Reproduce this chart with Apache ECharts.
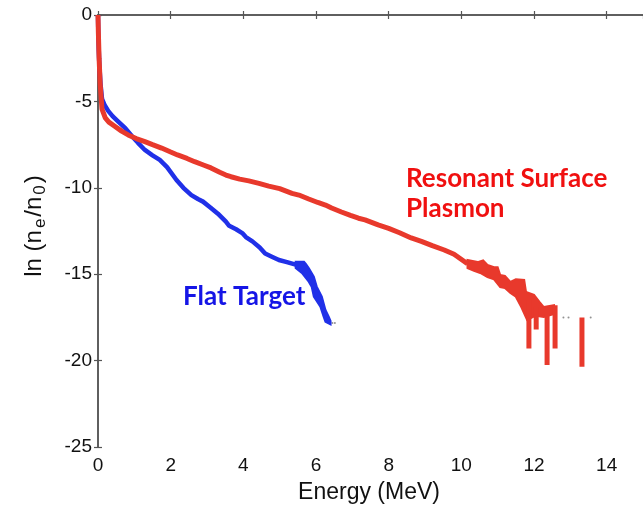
<!DOCTYPE html>
<html><head><meta charset="utf-8">
<script src="https://cdn.jsdelivr.net/npm/echarts@6/dist/echarts.min.js"></script>
<style>html,body{margin:0;padding:0;background:#fff}#c{width:643px;height:506px}</style>
</head><body><div id="c"></div>
<script>
// ---- data ----
const xTicks = [0, 2, 4, 6, 8, 10, 12, 14];
const yTicks = [-25, -20, -15, -10, -5, 0];
// Flat Target spectrum [energy MeV, ln(ne/n0)]
const flatTarget = [
  [0,0],[0.01,-1.2],[0.02,-2.0],[0.04,-3.0],[0.07,-4.0],[0.11,-4.85],[0.18,-5.2],[0.28,-5.55],
  [0.4,-5.85],[0.55,-6.15],[0.75,-6.55],[0.93,-7.0],[1.1,-7.4],[1.29,-7.81],[1.5,-8.12],[1.7,-8.39],
  [1.9,-8.8],[2.16,-9.55],[2.35,-10.0],[2.57,-10.42],[2.75,-10.65],[2.89,-10.8],[3.1,-11.15],
  [3.3,-11.5],[3.52,-11.96],[3.61,-12.2],[3.8,-12.4],[3.97,-12.62],[4.07,-12.85],[4.25,-13.1],
  [4.45,-13.45],[4.6,-13.8],[4.8,-14.0],[4.98,-14.18],[5.2,-14.3],[5.44,-14.45]
];
// noisy end of the Flat Target spectrum: upper and lower edge of the band
const flatTailUpper = [[5.44,-14.28],[5.67,-14.28],[5.72,-14.4],[5.8,-14.64],[5.94,-15.14],[6.02,-15.72],[6.16,-16.3],[6.26,-17.07],[6.35,-17.46],[6.4,-17.7]];
const flatTailLower = [[5.44,-14.64],[5.61,-14.93],[5.8,-15.43],[5.88,-15.72],[5.94,-16.3],[6.12,-16.88],[6.21,-17.46],[6.26,-17.75],[6.4,-17.9]];
const flatDots = [[6.45,-17.82],[6.52,-17.82]];
// Resonant Surface Plasmon spectrum
const plasmon = [
  [0,0],[0.01,-1.0],[0.03,-2.5],[0.06,-4.0],[0.11,-5.45],[0.2,-5.95],[0.3,-6.2],[0.47,-6.45],
  [0.65,-6.72],[0.83,-6.94],[1.05,-7.15],[1.29,-7.33],[1.5,-7.5],[1.75,-7.7],[2.0,-7.93],
  [2.19,-8.1],[2.45,-8.3],[2.66,-8.49],[2.9,-8.68],[3.11,-8.85],[3.35,-9.1],[3.52,-9.26],
  [3.66,-9.36],[3.9,-9.5],[4.15,-9.6],[4.43,-9.74],[4.7,-9.9],[5.0,-10.05],[5.34,-10.32],
  [5.53,-10.42],[5.8,-10.65],[6.05,-10.85],[6.26,-11.0],[6.43,-11.17],[6.7,-11.4],[6.95,-11.6],
  [7.17,-11.76],[7.35,-11.86],[7.71,-12.15],[8.0,-12.35],[8.3,-12.6],[8.62,-12.9],[8.9,-13.1],
  [9.2,-13.35],[9.53,-13.6],[9.8,-13.85],[10.17,-14.4]
];
// noisy end of the plasmon spectrum: upper and lower edge of the band
const plasmonTailUpper = [[10.17,-14.18],[10.45,-14.3],[10.6,-14.2],[10.72,-14.47],[10.9,-14.6],[11.0,-14.6],[11.07,-15.05],[11.2,-15.1],[11.35,-15.45],[11.5,-15.3],[11.73,-15.33],[11.78,-16.03],[12.0,-16.2],[12.15,-16.6],[12.27,-16.9],[12.55,-16.8]];
const plasmonTailLower = [[10.17,-14.64],[10.35,-14.8],[10.52,-14.93],[10.72,-15.16],[10.9,-15.3],[11.07,-15.74],[11.2,-15.8],[11.35,-16.09],[11.5,-16.3],[11.65,-16.9],[11.81,-17.65],[12.05,-17.4],[12.27,-17.48],[12.55,-17.3]];
// vertical noise spikes in the plasmon tail: [energy, top, bottom]
const plasmonSpikes = [[11.86,-16.5,-19.3],[12.06,-16.9,-18.2],[12.36,-17.3,-20.25],[12.58,-16.8,-19.3],[13.32,-17.5,-20.35]];
const plasmonDots = [[12.81,-17.5],[12.95,-17.5],[13.56,-17.5]];

// ---- chart ----
const RED = '#e8392c', BLUE = '#2030e8';
const chart = echarts.init(document.getElementById('c'), null, {renderer:'canvas'});
const axisLine = {show:true, lineStyle:{color:'#555', width:1.5}};
const tick = {show:true, inside:true, length:4, lineStyle:{color:'#555', width:1.2}};
const lbl = {color:'#111', fontSize:19, fontFamily:'Liberation Sans'};
function band(upper, lower, color) {
  return {type:'custom', data:[upper[0]], z:4, silent:true,
    renderItem:(params, api) => ({type:'polygon',
      shape:{points: upper.concat(lower.slice().reverse()).map(p => api.coord(p))},
      style:{fill:color, stroke:color, lineWidth:2}})};
}
const series = [
  {type:'line', data:flatTarget, showSymbol:false, lineStyle:{color:BLUE, width:4.5}, z:3},
  band(flatTailUpper, flatTailLower, BLUE),
  {type:'line', data:plasmon, showSymbol:false, lineStyle:{color:RED, width:5}, z:4},
  band(plasmonTailUpper, plasmonTailLower, RED),
  {type:'scatter', data:flatDots, symbolSize:2, itemStyle:{color:'#777'}},
  {type:'scatter', data:plasmonDots, symbolSize:2, itemStyle:{color:'#777'}}
];
plasmonSpikes.forEach(s => series.push({type:'line', data:[[s[0],s[1]],[s[0],s[2]]], showSymbol:false, lineStyle:{color:RED, width:5, cap:'butt'}, z:4}));
chart.setOption({
  animation:false,
  backgroundColor:'#fff',
  grid:{left:98, top:15, width:549, height:432},
  xAxis:[
    {type:'value', min:0, max:15, interval:2, position:'bottom', axisLine, axisTick:tick,
     axisLabel:Object.assign({margin:9, showMaxLabel:false}, lbl), splitLine:{show:false}},
    {type:'value', min:0, max:15, interval:2, position:'top', axisLine, axisTick:tick,
     axisLabel:{show:false}, splitLine:{show:false}}
  ],
  yAxis:[
    {type:'value', min:-25, max:0, interval:5, position:'left', axisLine, axisTick:tick,
     axisLabel:Object.assign({margin:6}, lbl), splitLine:{show:false}},
    {type:'value', min:-25, max:0, interval:5, position:'right', axisLine, axisTick:tick,
     axisLabel:{show:false}, splitLine:{show:false}}
  ],
  series,
  graphic:[
    {type:'text', x:369, y:493, style:{text:'Energy (MeV)', fill:'#111', font:'23px "Liberation Sans"', align:'center', verticalAlign:'middle'}},
    {type:'text', x:34, y:226, rotation:Math.PI/2,
     style:{text:'{m|ln (n}{s|e}{m|/n}{s|0}{m|)}', fill:'#111', align:'center', verticalAlign:'middle',
       rich:{m:{fontSize:24, fontFamily:'Liberation Sans', lineHeight:30, verticalAlign:'middle', fill:'#111'},
             s:{fontSize:17, fontFamily:'Liberation Sans', lineHeight:30, verticalAlign:'bottom', padding:[0,2,0,2], fill:'#111'}}}},
    {type:'text', x:183, y:297, style:{text:'Flat Target', fill:'#1515e6', font:'bold 26px Lato', align:'left', verticalAlign:'middle'}},
    {type:'text', x:406, y:179, style:{text:'Resonant Surface', fill:'#f01010', font:'bold 26px Lato', align:'left', verticalAlign:'middle'}},
    {type:'text', x:406, y:209, style:{text:'Plasmon', fill:'#f01010', font:'bold 26px Lato', align:'left', verticalAlign:'middle'}}
  ]
});
</script></body></html>
